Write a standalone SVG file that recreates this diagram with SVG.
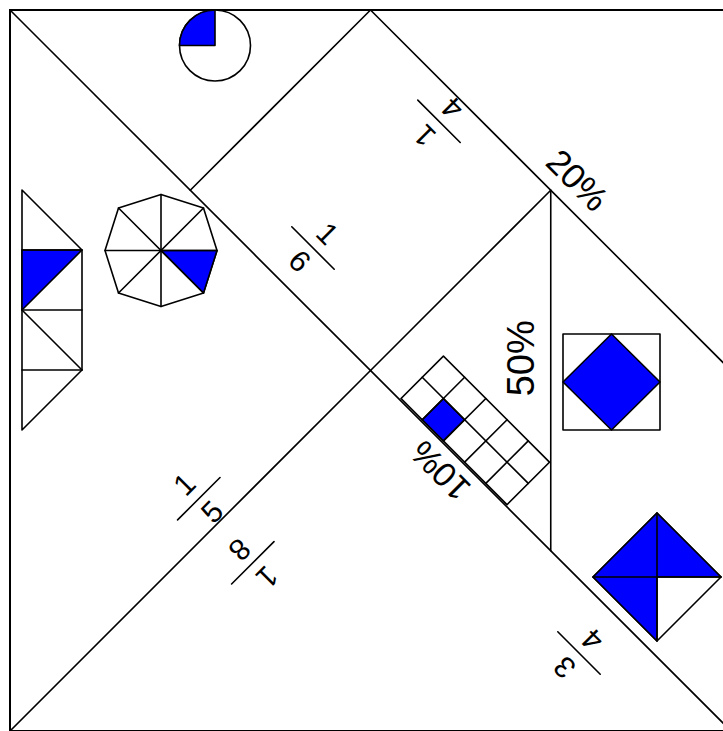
<svg xmlns="http://www.w3.org/2000/svg" width="723" height="731" viewBox="0 0 723 731">
<style>
.ln{stroke:#000;stroke-width:1.6;fill:none;stroke-linecap:round}
.sh{stroke:#000;stroke-width:1.6;fill:#fff;stroke-linejoin:round}
.bl{stroke:#000;stroke-width:1.6;fill:#0000ff;stroke-linejoin:round}
</style>
<rect x="0" y="0" width="723" height="731" fill="#fff"/>
<g id="connectors">
<rect x="10" y="10" width="721" height="721" fill="none" stroke="#000" stroke-width="2"/>
<line class="ln" x1="10" y1="10" x2="731" y2="731"/>
<line class="ln" x1="10" y1="731" x2="370.5" y2="370.5"/>
<line class="ln" x1="370.5" y1="10" x2="731" y2="370.5"/>
<line class="ln" x1="370.5" y1="10" x2="190.25" y2="190.25"/>
<line class="ln" x1="370.5" y1="370.5" x2="550.75" y2="190.25"/>
<line class="ln" x1="550.75" y1="190.25" x2="550.75" y2="550.75"/>
</g>
<g id="circle">
<circle class="sh" cx="215" cy="45.5" r="35.5"/>
<path class="bl" d="M215,45.5 L215,10 A35.5,35.5 0 0 0 179.5,45.5 Z"/>
</g>
<g id="triangle-strip">
<polygon class="sh" points="22,190 82,250 82,370 22,430"/>
<polygon class="bl" points="22,250 82,250 22,310"/>
<line class="ln" x1="22" y1="250" x2="82" y2="250"/>
<line class="ln" x1="22" y1="310" x2="82" y2="310"/>
<line class="ln" x1="22" y1="370" x2="82" y2="370"/>
<line class="ln" x1="22" y1="310" x2="82" y2="370"/>
</g>
<g id="octagon">
<polygon class="sh" points="161,194.5 203.5,208 217,250.5 203.5,293 161,306.5 118.5,293 105,250.5 118.5,208"/>
<polygon class="bl" points="161,250.5 217,250.5 203.5,293"/>
<line class="ln" x1="161" y1="194.5" x2="161" y2="306.5"/>
<line class="ln" x1="105" y1="250.5" x2="217" y2="250.5"/>
<line class="ln" x1="118.5" y1="208" x2="203.5" y2="293"/>
<line class="ln" x1="203.5" y1="208" x2="118.5" y2="293"/>
</g>
<g id="grid" transform="translate(401,398.5) rotate(45)">
<rect class="sh" x="0" y="-60" width="150" height="60"/>
<rect class="bl" x="30" y="-30" width="30" height="30"/>
<line class="ln" x1="0" y1="-30" x2="150" y2="-30"/>
<line class="ln" x1="30" y1="-60" x2="30" y2="0"/>
<line class="ln" x1="60" y1="-60" x2="60" y2="0"/>
<line class="ln" x1="90" y1="-60" x2="90" y2="0"/>
<line class="ln" x1="120" y1="-60" x2="120" y2="0"/>
</g>
<g id="square-diamond">
<rect class="sh" x="563" y="334" width="97" height="96"/>
<polygon class="bl" points="611.5,334 660,382 611.5,430 563,382"/>
</g>
<g id="split-diamond">
<polygon class="sh" points="657,513 721,577 657,641 593,577"/>
<polygon class="bl" points="657,513 721,577 657,577 657,641 593,577"/>
<line class="ln" x1="657" y1="513" x2="657" y2="641"/>
<line class="ln" x1="593" y1="577" x2="721" y2="577"/>
</g>
<g id="labels" font-family="Liberation Sans, Arial, sans-serif" fill="#000" text-anchor="middle">
<g id="frac-1-4" transform="translate(439,121.3) rotate(225)" font-size="30">
<line class="ln" x1="-30" y1="0" x2="30" y2="0"/>
<text x="0" y="-10">1</text>
<text x="0" y="29">4</text>
</g>
<g id="frac-1-6" transform="translate(313,248) rotate(45)" font-size="30">
<line class="ln" x1="-30" y1="0" x2="30" y2="0"/>
<text x="0" y="-10">1</text>
<text x="0" y="29">6</text>
</g>
<g id="frac-1-5" transform="translate(198.8,498.7) rotate(-45)" font-size="30">
<line class="ln" x1="-30" y1="0" x2="30" y2="0"/>
<text x="0" y="-10">1</text>
<text x="0" y="29">5</text>
</g>
<g id="frac-1-8" transform="translate(252.8,562.8) rotate(135)" font-size="30">
<line class="ln" x1="-30" y1="0" x2="30" y2="0"/>
<text x="0" y="-10">1</text>
<text x="0" y="29">8</text>
</g>
<g id="frac-3-4" transform="translate(579,653) rotate(225)" font-size="30">
<line class="ln" x1="-30" y1="0" x2="30" y2="0"/>
<text x="0" y="-10">3</text>
<text x="0" y="29">4</text>
</g>
<g id="pct-20" transform="translate(577.5,180) rotate(45)">
<text font-size="35" x="0" y="12.5">20%</text>
</g>
<g id="pct-50" transform="translate(520.5,358.3) rotate(-90)">
<text font-size="38" x="0" y="13.6">50%</text>
</g>
<g id="pct-10" transform="translate(440,471) rotate(225)">
<text font-size="34" x="0" y="12.2">10%</text>
</g>
</g>
</svg>
